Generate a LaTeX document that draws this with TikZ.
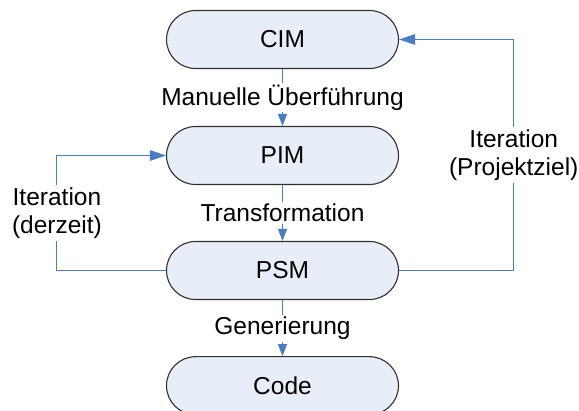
\documentclass[tikz,border=0pt]{standalone}
\usepackage{fontspec}
\setmainfont{Liberation Sans}
\usetikzlibrary{arrows.meta}
\definecolor{boxfill}{HTML}{E8EEF8}
\definecolor{boxline}{HTML}{303030}
\definecolor{flow}{HTML}{4A7CC6}

\begin{document}
\begin{tikzpicture}[x=1pt,y=1pt,
  every node/.style={font=\fontsize{24.5}{28.5}\selectfont},
  stage/.style={draw=boxline, line width=1.1pt, fill=boxfill,
    rounded corners=29pt, minimum width=232pt, minimum height=58pt,
    inner sep=0pt},
  flowline/.style={draw=flow, line width=1pt},
  down/.style={flowline, -{Triangle[length=12pt,width=9pt]}},
  back/.style={flowline, -{Triangle[length=16pt,width=10.5pt]}},
  lbl/.style={fill=white, inner sep=2pt, align=center}]

\useasboundingbox (0,0) rectangle (579,-411);

% the four model stages
\node[stage] (cim)  at (282.5,-39.5)  {CIM};
\node[stage] (pim)  at (282.5,-155.5) {PIM};
\node[stage] (psm)  at (282.5,-270.5) {PSM};
\node[stage] (code) at (282.5,-385.7) {Code};

% forward steps
\draw[down] (cim) -- node[lbl] {Manuelle Überführung} (pim);
\draw[down] (pim) -- node[lbl] {Transformation} (psm);
\draw[down] (psm) -- node[lbl] {Generierung} (code);

% iteration loops
\draw[back] (psm.west) -- ++(-109,0) |- node[lbl, pos=0.25] {Iteration\\(derzeit)} (pim.west);
\draw[back] (psm.east) -- ++(114.7,0) |- node[lbl, pos=0.25] {Iteration\\(Projektziel)} (cim.east);
\end{tikzpicture}
\end{document}
